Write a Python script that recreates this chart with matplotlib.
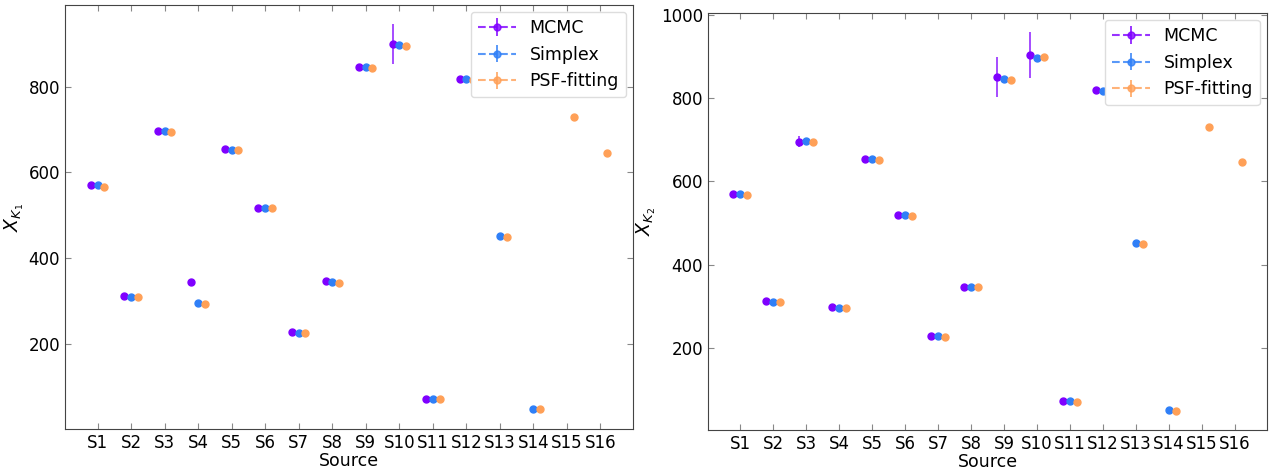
import numpy as np
import matplotlib.pyplot as plt

sources = ['S%d' % i for i in range(1, 17)]
nan = np.nan

# panel 1: X_K1
mcmc_k1 = [570, 311, 696, 344, 654, 518, 227, 346, 847, 900, 71, 819, nan, nan, nan, nan]
mcmc_k1_err = [2, 2, 2, 2, 2, 2, 2, 2, 2, 46, 2, 2, nan, nan, nan, nan]
simplex_k1 = [570, 310, 696, 295, 653, 518, 226, 345, 847, 897, 71, 818, 451, 48, nan, nan]
simplex_k1_err = [1, 1, 1, 1, 1, 1, 1, 1, 1, 1, 1, 1, 1, 1, nan, nan]
psf_k1 = [567, 309, 694, 293, 652, 517, 225, 343, 845, 896, 70, 816, 449, 47, 729, 646]
psf_k1_err = [1] * 16

# panel 2: X_K2
mcmc_k2 = [570, 312, 695, 297, 654, 518, 229, 347, 851, 904, 73, 819, nan, nan, nan, nan]
mcmc_k2_err = [8, 2, 13, 2, 2, 2, 2, 2, 49, 55, 2, 2, nan, nan, nan, nan]
simplex_k2 = [569, 311, 696, 296, 654, 518, 228, 347, 846, 897, 72, 818, 452, 50, nan, nan]
simplex_k2_err = [1, 1, 1, 1, 1, 1, 1, 1, 1, 1, 1, 1, 1, 1, nan, nan]
psf_k2 = [567, 309, 694, 295, 652, 517, 227, 345, 844, 899, 70, 817, 450, 49, 730, 646]
psf_k2_err = [1] * 16

methods = ['MCMC', 'Simplex', 'PSF-fitting']
colors = ['#7f00ff', '#2f7ff7', '#ffa057']
offsets = [-0.2, 0.0, 0.2]

fig = plt.figure(figsize=(12.77, 4.75), dpi=100)
ax1 = fig.add_axes([0.0509, 0.0968, 0.4448, 0.8926])
ax2 = fig.add_axes([0.5544, 0.0947, 0.4377, 0.8779])

panels = [
    (ax1, [mcmc_k1, simplex_k1, psf_k1], [mcmc_k1_err, simplex_k1_err, psf_k1_err], r'$X_{K_1}$'),
    (ax2, [mcmc_k2, simplex_k2, psf_k2], [mcmc_k2_err, simplex_k2_err, psf_k2_err], r'$X_{K_2}$'),
]

x = np.arange(len(sources))
for ax, vals, errs, ylab in panels:
    for name, c, off, v, e in zip(methods, colors, offsets, vals, errs):
        eb = ax.errorbar(x + off, v, yerr=e, fmt='o', ls='none', color=c,
                         ms=5, elinewidth=1.4, ecolor=c)
        eb[2][0].set_alpha(0.7)
        # proxy for legend (dashed line + errorbar)
        ax.errorbar([nan], [nan], yerr=[nan], fmt='o', ls='--', color=c,
                    ms=5, elinewidth=1.4, alpha=0.8, label=name)
    ax.set_xticks(x)
    ax.set_xticklabels(sources, fontsize=12)
    ax.tick_params(axis='y', labelsize=12)
    ax.tick_params(direction='in', top=True, right=True, length=4,
                   color='#888888')
    for s in ax.spines.values():
        s.set_color('#444444')
    ax.set_xlabel('Source', fontsize=12.5, labelpad=0)
    ax.set_ylabel(ylab, fontsize=13.5, labelpad=2)
    ax.legend(loc='upper right', fontsize=12.5, handlelength=2.2,
              framealpha=1, edgecolor='#dddddd', borderaxespad=0.4)

fig.savefig('out.png', dpi=100)
